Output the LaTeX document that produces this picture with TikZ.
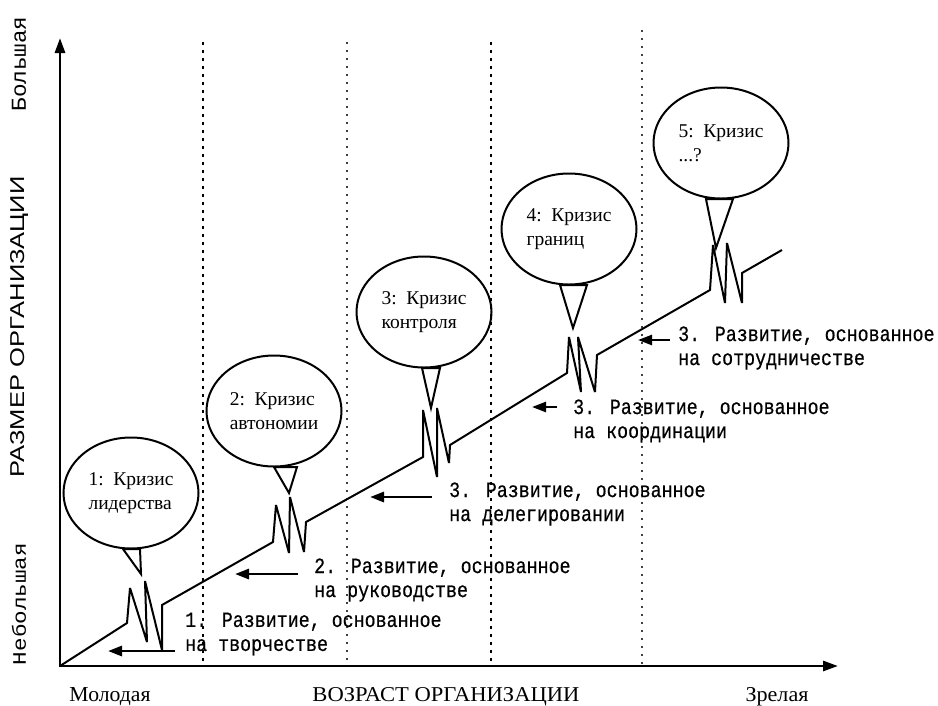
\documentclass[tikz,border=0pt]{standalone}
\usepackage{fontspec}
\setmainfont{Liberation Serif}
\newfontfamily\devmono[FakeStretch=0.84,FakeBold=0.5]{Liberation Mono}
\newfontfamily\axmono{Liberation Mono}
\newfontfamily\axsans{Liberation Sans}
\usetikzlibrary{arrows.meta,shapes.geometric}
\begin{document}
\begin{tikzpicture}[x=1pt,y=-1pt,
  axis/.style={line width=2.8pt,{Triangle[length=15pt,width=10pt]}-{Triangle[length=15pt,width=10pt]}},
  gridstrong/.style={line width=2.6pt,dash pattern=on 2.6pt off 5.4pt},
  gridlight/.style={line width=1.7pt,black!75,dash pattern=on 1.7pt off 6.3pt},
  growth/.style={line width=2pt,miter limit=3},
  bubble/.style={draw,ellipse,line width=2pt,inner sep=0pt,minimum width=135pt,minimum height=111pt,
    font=\fontsize{19.5}{24}\selectfont,align=left},
  tail/.style={draw,line width=2pt,fill=white,line join=miter},
  devtext/.style={font=\devmono\fontsize{21.8}{24}\selectfont,align=left,anchor=west,inner sep=0pt},
  devarrow/.style={line width=2.8pt,-{Triangle[length=14pt,width=10pt]}},
  axlabel/.style={inner sep=0pt},
]
\useasboundingbox (0,0) rectangle (938,705);

% axes
\coordinate (O) at (60,666);
\coordinate (ytop) at (60,38);
\coordinate (xend) at (838,666);

% dotted stage boundaries
\coordinate (d1t) at (203,42); \coordinate (d1b) at (203,666);
\coordinate (d2t) at (347,42); \coordinate (d2b) at (347,666);
\coordinate (d3t) at (491,42); \coordinate (d3b) at (491,666);
\coordinate (d4t) at (642,30); \coordinate (d4b) at (642,666);
\draw[gridstrong] (d1t) -- (d1b);
\draw[gridlight] (d2t) -- (d2b);
\draw[gridstrong] (d3t) -- (d3b);
\draw[gridlight] (d4t) -- (d4b);

\draw[axis] (ytop) -- (O) -- (xend);

% growth line with crisis zigzags
\draw[growth] (O) -- (127,623) -- (130,588) -- (147,642) -- (145,581) -- (162,650) -- (162,605)
  -- (273,542) -- (276,505) -- (289,553) -- (290,497) -- (304,552) -- (306,522)
  -- (423,457) -- (423,410) -- (437,477) -- (437,408) -- (449,463) -- (450,445)
  -- (567,373) -- (569,337) -- (581,392) -- (578,337) -- (595,392) -- (597,355)
  -- (710,290) -- (713,245) -- (725,303) -- (727,243) -- (742,303) -- (742,273)
  -- (782,250);

% bubbles
\node[bubble] (b1) at (131,493) {1:~~Кризис\\лидерства};
\node[bubble] (b2) at (274,411) {2:~~Кризис\\автономии};
\node[bubble] (b3) at (424,312) {3:~~Кризис\\контроля};
\node[bubble] (b4) at (569,229) {4:~~Кризис\\границ};
\node[bubble] (b5) at (721,143) {5:~~Кризис\\...?};

\coordinate (a1) at (141,574); \coordinate (a2) at (289,493);
\coordinate (a3) at (431,408); \coordinate (a4) at (573,328);
\coordinate (a5) at (716,248);
\draw[tail] ([xshift=-8pt,yshift=0.5pt]b1.south) -- (a1) -- ([xshift=9pt,yshift=0.5pt]b1.south) -- cycle;
\draw[tail] ([xshift=0pt,yshift=0.5pt]b2.south) -- (a2) -- ([xshift=23pt,yshift=0.5pt]b2.south) -- cycle;
\draw[tail] ([xshift=-2pt,yshift=0.5pt]b3.south) -- (a3) -- ([xshift=16pt,yshift=0.5pt]b3.south) -- cycle;
\draw[tail] ([xshift=-9pt,yshift=0.5pt]b4.south) -- (a4) -- ([xshift=18pt,yshift=0.5pt]b4.south) -- cycle;
\draw[tail] ([xshift=-15pt,yshift=0.5pt]b5.south) -- (a5) -- ([xshift=12pt,yshift=0.5pt]b5.south) -- cycle;

% development labels and arrows
\node[devtext] (t1) at (185,634) {1. Развитие, основанное\\на творчестве};
\node[devtext] (t2) at (314,580) {2. Развитие, основанное\\на руководстве};
\node[devtext] (t3) at (449,504) {3. Развитие, основанное\\на делегировании};
\node[devtext] (t4) at (573,421) {3. Развитие, основанное\\на координации};
\node[devtext] (t5) at (678,348) {3. Развитие, основанное\\на сотрудничестве};

\coordinate (s1) at (175,651); \coordinate (e1) at (108,651);
\coordinate (s2) at (298,574); \coordinate (e2) at (235,574);
\coordinate (s3) at (432,497); \coordinate (e3) at (370,497);
\coordinate (s4) at (557,407); \coordinate (e4) at (532,407);
\coordinate (s5) at (670,340); \coordinate (e5) at (638,340);
\draw[devarrow] (s1) -- (e1);
\draw[devarrow] (s2) -- (e2);
\draw[devarrow] (s3) -- (e3);
\draw[devarrow,line width=2.4pt] (s4) -- (e4);
\draw[devarrow,line width=2.4pt] (s5) -- (e5);

% axis labels
\node[axlabel,rotate=90] (ylo) at (19,604) {\resizebox{122pt}{14pt}{\axmono Небольшая}};
\node[axlabel,rotate=90] (ytitle) at (19,327) {\resizebox{301pt}{14pt}{\axsans РАЗМЕР ОРГАНИЗАЦИИ}};
\node[axlabel,rotate=90] (yhi) at (19,64) {\resizebox{95pt}{14pt}{\axmono Большая}};

\node[axlabel] (xlo) at (110,697) {\resizebox{81pt}{14pt}{Молодая}};
\node[axlabel] (xtitle) at (446,697) {\resizebox{267pt}{14pt}{ВОЗРАСТ ОРГАНИЗАЦИИ}};
\node[axlabel] (xhi) at (777,697) {\resizebox{63pt}{14pt}{Зрелая}};
\end{tikzpicture}
\end{document}
